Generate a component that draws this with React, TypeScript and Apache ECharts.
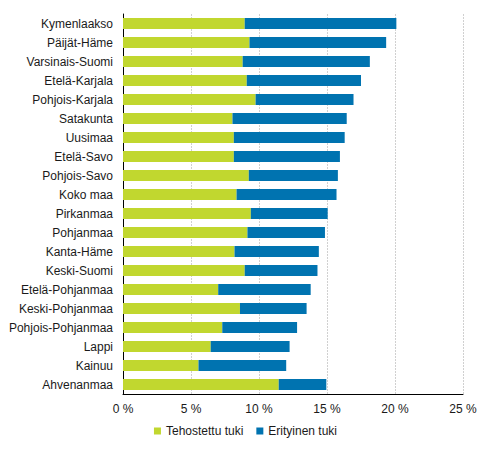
import * as echarts from 'echarts';
import React, { useEffect, useRef } from 'react';

const categories = [
  'Kymenlaakso',
  'Päijät-Häme',
  'Varsinais-Suomi',
  'Etelä-Karjala',
  'Pohjois-Karjala',
  'Satakunta',
  'Uusimaa',
  'Etelä-Savo',
  'Pohjois-Savo',
  'Koko maa',
  'Pirkanmaa',
  'Pohjanmaa',
  'Kanta-Häme',
  'Keski-Suomi',
  'Etelä-Pohjanmaa',
  'Keski-Pohjanmaa',
  'Pohjois-Pohjanmaa',
  'Lappi',
  'Kainuu',
  'Ahvenanmaa',
];

const tehostettu = [
  8.95, 9.3, 8.8, 9.1, 9.75, 8.05, 8.15, 8.15, 9.25, 8.35, 9.4, 9.15, 8.2, 8.95, 7.0, 8.6, 7.3, 6.45,
  5.55, 11.45,
];

const erityinen = [
  11.15, 10.05, 9.35, 8.4, 7.2, 8.4, 8.15, 7.8, 6.55, 7.35, 5.65, 5.7, 6.2, 5.35, 6.8, 4.9, 5.5,
  5.8, 6.45, 3.5,
];

const textColor = '#1a1a1a';
const font = "'Liberation Sans', Arial, sans-serif";

const App: React.FC = () => {
  const chartRef = useRef<HTMLDivElement>(null);

  useEffect(() => {
    document.body.style.margin = '0';
    if (!chartRef.current) return;

    const chart = echarts.init(chartRef.current, undefined, { renderer: 'svg' });

    const option: echarts.EChartsOption = {
      animation: false,
      textStyle: { fontFamily: font },
      grid: {
        left: 123,
        right: 28,
        top: 14,
        bottom: 60,
      },
      legend: {
        bottom: 12,
        left: 'center',
        itemWidth: 7,
        itemHeight: 7,
        itemGap: 13,
        icon: 'rect',
        textStyle: { color: textColor, fontSize: 12, fontFamily: font },
        data: ['Tehostettu tuki', 'Erityinen tuki'],
      },
      xAxis: {
        type: 'value',
        min: 0,
        max: 25,
        interval: 5,
        axisLine: { show: true, lineStyle: { color: '#000', width: 1 } },
        axisTick: { show: false },
        axisLabel: {
          formatter: '{value} %',
          color: textColor,
          fontSize: 12,
          margin: 9,
        },
        splitLine: {
          show: true,
          lineStyle: { color: '#d0d0d0', width: 1, type: [2, 1] },
        },
      },
      yAxis: {
        type: 'category',
        data: categories,
        inverse: true,
        axisLine: { show: true, lineStyle: { color: '#000', width: 1 } },
        axisTick: { show: false },
        axisLabel: { color: textColor, fontSize: 12, margin: 10 },
        splitLine: { show: false },
      },
      series: [
        {
          name: 'Tehostettu tuki',
          type: 'bar',
          stack: 'tuki',
          data: tehostettu,
          barWidth: 11,
          itemStyle: { color: '#c1d72f' },
        },
        {
          name: 'Erityinen tuki',
          type: 'bar',
          stack: 'tuki',
          data: erityinen,
          barWidth: 11,
          itemStyle: { color: '#0073b0' },
        },
      ],
    };

    chart.setOption(option);

    return () => {
      chart.dispose();
    };
  }, []);

  return <div ref={chartRef} style={{ width: '491px', height: '454px' }} />;
};

export default App;
